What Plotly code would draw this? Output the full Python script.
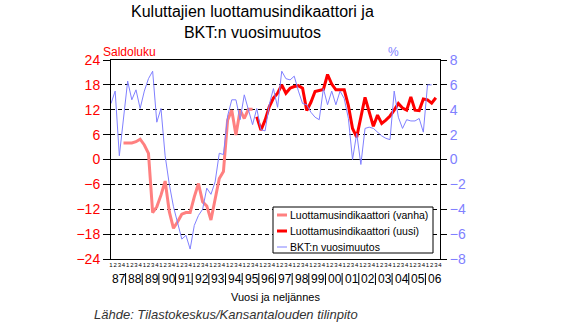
import plotly.graph_objects as go

# Quarterly category axis: 1987 Q1 ... 2006 Q4
years = list(range(1987, 2007))
year_labels = [str(y)[-2:] for y in years]
quarter_labels = [str(q) for _ in years for q in (1, 2, 3, 4)]

# GDP year-on-year change (%), from 1987 Q1
bkt_start = 0
bkt_pct = [
    4.5, 5.5, 0.3, 3.3, 6.3, 4.8, 5.6, 4.1, 5.5, 6.5,
    7.1, 3.0, 4.1, 0.3, -2.0, -3.8, -5.0, -6.4, -6.1, -7.2,
    -5.3, -4.5, -4.0, -2.3, -2.8, -1.8, 0.5, 0.4, 3.5, 4.8,
    4.8, 3.2, 5.2, 4.0, 2.8, 4.1, 2.4, 2.3, 4.4, 5.7,
    4.2, 7.1, 6.5, 6.4, 6.7, 5.5, 4.5, 4.4, 3.8, 3.4,
    3.2, 5.7, 4.4, 5.5, 4.4, 5.5, 4.9, 3.3, 0.0, 2.1,
    -0.4, 2.5, 2.6, 2.5, 2.2, 1.9, 1.7, 1.6, 5.5, 3.4,
    2.5, 3.2, 3.1, 3.1, 3.3, 2.2, 6.0, 6.0,
]

# Consumer confidence indicator, old series (balance), from 1987 Q4
old_start = 3
old_conf = [
    4.0, 4.0, 4.0, 4.3, 4.9, 3.5, 1.5, -12.8, -11.4, -8.6,
    -5.2, -12.6, -16.6, -15.0, -13.2, -12.8, -12.8, -9.0, -5.8, -10.2,
    -11.2, -14.6, -10.0, -4.6, -2.9, 9.5, 11.9, 5.9, 11.9, 9.9,
    12.1, 12.1,
]

# Consumer confidence indicator, new series (balance), from 1995 Q4
new_start = 35
new_conf = [
    10.3, 7.1, 9.5, 12.7, 14.8, 16.0, 18.0, 16.0, 17.2, 17.6,
    17.8, 17.2, 11.8, 13.8, 16.4, 16.6, 16.9, 20.5, 18.2, 16.8,
    16.8, 16.8, 13.0, 7.5, 5.4, 10.5, 15.0, 11.5, 8.0, 10.7,
    8.7, 9.5, 10.5, 11.9, 13.5, 12.4, 11.9, 15.1, 11.9, 11.8,
    14.6, 14.4, 13.6, 14.9,
]

n_q = len(quarter_labels)

series = [
    # name, x start, values, axis, colour, width
    ("Luottamusindikaattori (vanha)", old_start, old_conf, "y", "#FF8080", 3),
    ("Luottamusindikaattori (uusi)", new_start, new_conf, "y", "#FF0000", 3),
    ("BKT:n vuosimuutos", bkt_start, bkt_pct, "y2", "#8080FF", 1),
]

fig = go.Figure()
# GDP line first so the confidence lines sit on top of it
for name, start, vals, axis, color, width in [series[2], series[0], series[1]]:
    fig.add_trace(go.Scatter(
        x=list(range(start, start + len(vals))), y=vals, yaxis=axis,
        mode="lines", name=name, line=dict(color=color, width=width),
        showlegend=False,
    ))

FONT = "Liberation Sans, Arial, sans-serif"

# plot area in pixels: x 111..440, y 60..259
L, R, T, B = 111, 440, 60, 259
W, H = 577, 322


def px_x(x):
    return (x - L) / (R - L)


def px_y(y):
    return (B - y) / (B - T)


def idx_x(i):
    # quarter index -> paper x
    return i / (n_q - 1)


annotations = [
    dict(x=px_x(252), y=px_y(1), xref="paper", yref="paper",
         text="Kuluttajien luottamusindikaattori ja<br>BKT:n vuosimuutos",
         showarrow=False, xanchor="center", yanchor="top",
         font=dict(family=FONT, size=16, color="black")),
]
# year labels under the quarter digits
for k, lab in enumerate(year_labels):
    annotations.append(dict(
        x=idx_x(4 * k - 0.35), y=px_y(279), xref="paper", yref="paper",
        text=lab, showarrow=False, xanchor="left", yanchor="middle",
        font=dict(family=FONT, size=12, color="black"),
    ))
annotations += [
    dict(x=px_x(101), y=px_y(52), xref="paper", yref="paper", text="Saldoluku",
         showarrow=False, xanchor="left", yanchor="middle",
         font=dict(family=FONT, size=12, color="#FF0000")),
    dict(x=px_x(393), y=px_y(52), xref="paper", yref="paper", text="%",
         showarrow=False, xanchor="center", yanchor="middle",
         font=dict(family=FONT, size=12, color="#8080FF")),
    dict(x=0.5, y=px_y(297), xref="paper", yref="paper", text="Vuosi ja neljännes",
         showarrow=False, xanchor="center", yanchor="middle",
         font=dict(family=FONT, size=11, color="black")),
    dict(x=px_x(92), y=px_y(314), xref="paper", yref="paper",
         text="<i>Lähde: Tilastokeskus/Kansantalouden tilinpito</i>",
         showarrow=False, xanchor="left", yanchor="middle",
         font=dict(family=FONT, size=13, color="#333333")),
]

# separators between year labels
shapes = [
    dict(type="line", xref="paper", yref="paper",
         x0=idx_x(4 * k - 0.5), x1=idx_x(4 * k - 0.5),
         y0=px_y(273), y1=px_y(285), line=dict(color="black", width=1))
    for k in range(1, len(years))
]

# legend box with a short line sample per series
leg_left, leg_right, leg_top, leg_bottom = 273, 433, 207, 253
shapes.append(dict(
    type="rect", xref="paper", yref="paper",
    x0=px_x(leg_left), x1=px_x(leg_right), y0=px_y(leg_top), y1=px_y(leg_bottom),
    line=dict(color="black", width=1), fillcolor="white", layer="above",
))
for row, (name, _, _, _, color, width) in enumerate(series):
    yc = 215 + row * 16
    shapes.append(dict(
        type="line", xref="paper", yref="paper",
        x0=px_x(277), x1=px_x(287), y0=px_y(yc), y1=px_y(yc),
        line=dict(color=color, width=width), layer="above",
    ))
    annotations.append(dict(
        x=px_x(287.5), y=px_y(yc), xref="paper", yref="paper", text=name,
        showarrow=False, xanchor="left", yanchor="middle",
        font=dict(family=FONT, size=10.5, color="black"),
    ))

fig.update_layout(
    width=W, height=H,
    margin=dict(l=L, r=W - R, t=T, b=H - B),
    paper_bgcolor="white", plot_bgcolor="white",
    font=dict(family=FONT, size=12, color="black"),
    showlegend=False,
    xaxis=dict(
        range=[0, n_q - 1], tickmode="array",
        tickvals=list(range(n_q)), ticktext=quarter_labels, tickangle=0,
        tickfont=dict(family=FONT, size=6, color="black"),
        ticks="", showline=True, linecolor="black", linewidth=1, mirror=True,
        showgrid=False, zeroline=False,
    ),
    yaxis=dict(
        range=[-24, 24], dtick=6, tick0=0,
        tickfont=dict(family=FONT, size=14, color="#FF0000"),
        ticks="outside", ticklen=7, tickcolor="black",
        showline=True, linecolor="black", linewidth=1,
        showgrid=True, gridcolor="black", gridwidth=1, griddash="4px,3px",
        zeroline=True, zerolinecolor="black", zerolinewidth=1,
    ),
    yaxis2=dict(
        overlaying="y", side="right", range=[-8, 8], dtick=2, tick0=0,
        tickfont=dict(family=FONT, size=14, color="#8080FF"),
        ticks="outside", ticklen=6, tickcolor="black",
        showline=True, linecolor="black", linewidth=1,
        showgrid=False, zeroline=False,
    ),
    annotations=annotations,
    shapes=shapes,
)

fig.write_html("out.html")
